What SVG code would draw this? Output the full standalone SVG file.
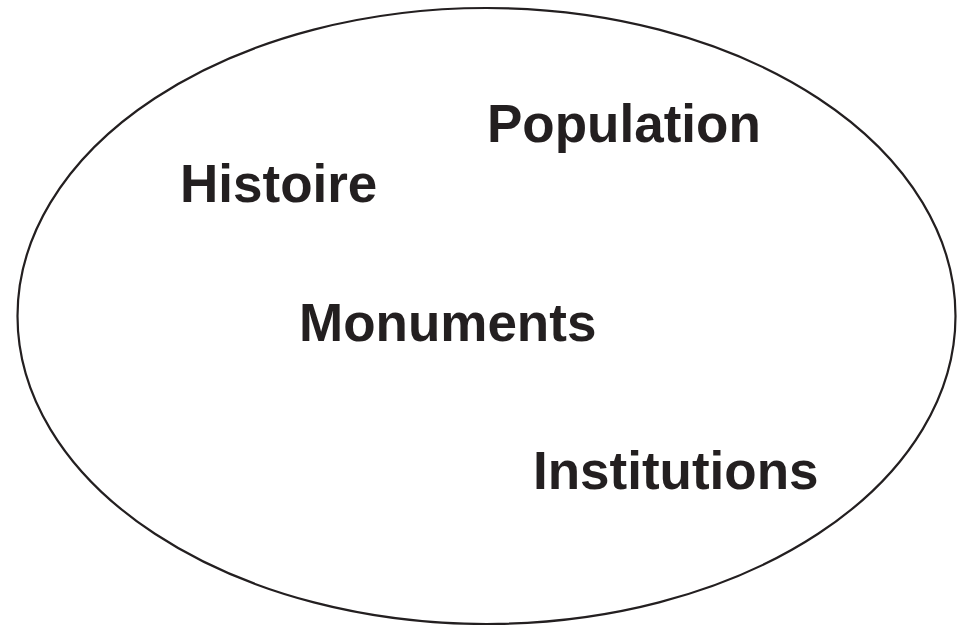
<svg xmlns="http://www.w3.org/2000/svg" width="964" height="625" viewBox="0 0 964 625">
<style>
.lbl{font-family:"Liberation Sans",Arial,Helvetica,sans-serif;font-weight:bold;font-size:53px;fill:#231f20}
.ring{fill:none;stroke:#231f20;stroke-width:2.2}
</style>
<rect width="964" height="625" fill="#ffffff"/>
<g id="ellipse"><ellipse class="ring" cx="486.5" cy="316" rx="469" ry="308"/></g>
<g id="population"><text class="lbl" x="487" y="142">Population</text></g>
<g id="histoire"><text class="lbl" x="180" y="202">Histoire</text></g>
<g id="monuments"><text class="lbl" x="299" y="341">Monuments</text></g>
<g id="institutions"><text class="lbl" x="533" y="489">Institutions</text></g>
<g id="connectors"></g>
</svg>
